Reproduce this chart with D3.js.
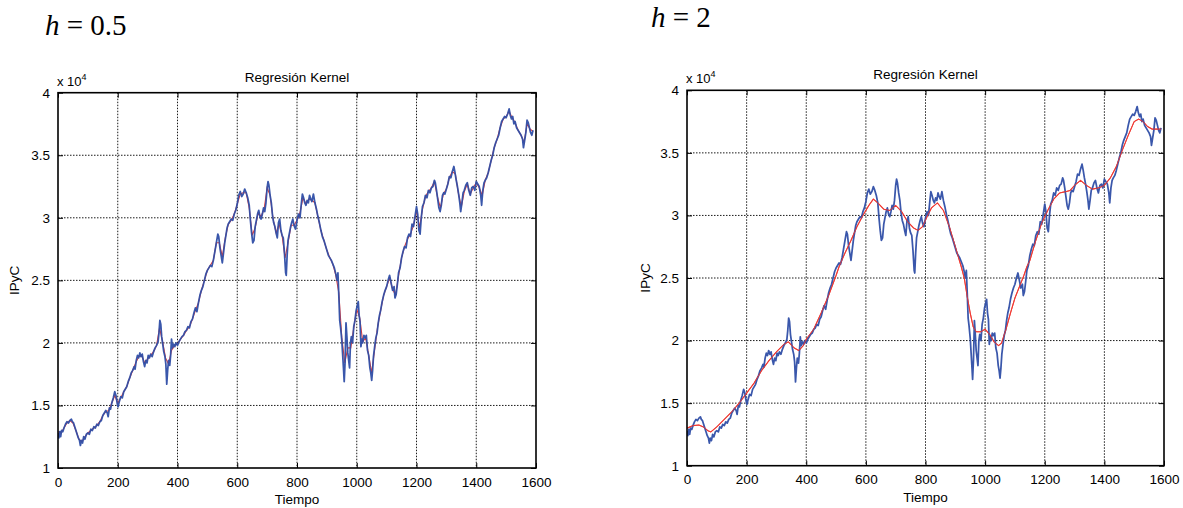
<!DOCTYPE html>
<html><head><meta charset="utf-8">
<script src="https://cdn.jsdelivr.net/npm/d3@7"></script>
<style>body{margin:0;background:#fff;} svg text{font-family:"Liberation Sans",Arial,sans-serif;fill:#000;}</style>
</head><body>
<svg id="c" width="1183" height="508"></svg>
<script>
const tiempo = [0,3,6,9,12,16,20,25,30,35,40,45,48,52,56,60,64,68,72,75,78,82,86,90,95,100,105,110,115,120,125,130,135,140,145,150,155,160,165,168,172,176,180,185,190,194,198,201,205,210,215,220,225,230,235,240,245,250,255,258,262,266,270,274,278,282,286,290,294,298,302,306,310,315,320,325,330,335,338,341,344,347,350,354,358,361,364,367,370,374,377,380,383,387,391,395,400,405,410,415,420,425,430,435,440,445,450,455,460,465,470,475,480,485,490,495,500,505,510,515,520,525,530,535,538,542,546,550,554,558,562,566,570,575,580,585,590,595,600,605,610,615,620,625,630,635,640,644,648,652,656,660,664,668,672,676,680,684,688,692,696,700,703,706,710,714,718,722,726,730,734,738,742,746,750,754,758,762,764,767,770,774,778,782,786,790,795,800,805,810,814,818,822,826,830,834,838,842,846,850,855,860,865,870,875,880,885,890,895,900,905,910,915,920,925,930,934,937,940,943,946,950,953,956,958,961,964,967,970,973,976,979,982,986,990,994,998,1002,1005,1008,1011,1014,1017,1020,1024,1028,1032,1036,1040,1044,1047,1050,1053,1056,1060,1064,1068,1072,1076,1080,1085,1090,1095,1100,1105,1110,1115,1120,1125,1128,1132,1136,1140,1145,1150,1155,1160,1165,1170,1175,1180,1185,1190,1195,1200,1204,1208,1212,1216,1220,1225,1230,1235,1240,1245,1250,1255,1260,1263,1267,1271,1275,1279,1283,1287,1291,1295,1300,1305,1310,1315,1320,1325,1329,1333,1337,1341,1345,1348,1352,1356,1360,1365,1370,1375,1380,1385,1390,1395,1400,1405,1410,1415,1418,1422,1426,1430,1435,1440,1445,1450,1455,1460,1465,1470,1475,1480,1485,1490,1495,1500,1505,1510,1514,1518,1522,1526,1530,1535,1540,1545,1550,1555,1558,1562,1566,1570,1574,1578,1582,1586,1590];
const ipyc = [1.28,1.24,1.29,1.25,1.30,1.29,1.32,1.35,1.37,1.36,1.38,1.39,1.37,1.36,1.33,1.30,1.27,1.24,1.22,1.18,1.22,1.20,1.25,1.23,1.27,1.28,1.27,1.31,1.30,1.33,1.32,1.35,1.34,1.37,1.38,1.42,1.44,1.46,1.44,1.41,1.48,1.47,1.52,1.56,1.61,1.58,1.52,1.49,1.53,1.57,1.56,1.61,1.63,1.65,1.69,1.72,1.76,1.78,1.81,1.79,1.86,1.90,1.88,1.92,1.89,1.91,1.85,1.81,1.86,1.84,1.90,1.88,1.91,1.89,1.93,1.96,1.98,2.01,2.08,2.18,2.15,2.05,2.00,1.93,1.89,1.83,1.67,1.78,1.86,1.82,1.90,2.03,1.96,1.99,1.97,2.00,1.98,2.01,2.03,2.05,2.06,2.09,2.10,2.13,2.12,2.17,2.19,2.24,2.28,2.25,2.32,2.38,2.42,2.45,2.50,2.55,2.58,2.60,2.62,2.61,2.66,2.73,2.80,2.87,2.85,2.76,2.70,2.64,2.72,2.80,2.86,2.92,2.95,2.97,2.99,2.98,3.03,3.06,3.11,3.18,3.21,3.17,3.19,3.23,3.20,3.16,3.10,2.98,2.88,2.80,2.82,2.93,2.98,3.03,3.06,3.01,2.99,3.03,3.08,3.05,3.12,3.24,3.29,3.26,3.18,3.12,3.02,2.96,2.93,2.88,2.84,2.96,2.99,2.90,2.86,2.84,2.72,2.56,2.54,2.70,2.82,2.87,2.92,2.96,2.99,2.94,2.91,2.98,3.03,3.00,3.10,3.19,3.16,3.12,3.10,3.14,3.12,3.18,3.15,3.13,3.19,3.12,3.07,3.01,2.96,2.90,2.85,2.82,2.78,2.74,2.70,2.68,2.66,2.63,2.60,2.55,2.50,2.56,2.38,2.18,2.12,2.02,1.90,1.78,1.69,1.85,2.16,2.05,1.92,1.86,1.80,2.00,2.05,2.00,2.13,2.18,2.26,2.30,2.33,2.22,2.17,1.97,2.03,2.00,2.06,2.04,2.06,1.94,1.90,1.80,1.76,1.70,1.78,1.89,1.97,2.04,2.08,2.16,2.22,2.26,2.33,2.38,2.42,2.45,2.50,2.54,2.48,2.42,2.45,2.36,2.39,2.47,2.56,2.60,2.68,2.73,2.77,2.76,2.84,2.87,2.85,2.95,2.93,3.01,3.09,3.03,2.90,2.87,3.00,3.09,3.12,3.18,3.16,3.22,3.20,3.24,3.25,3.30,3.28,3.22,3.15,3.08,3.05,3.10,3.18,3.20,3.19,3.23,3.27,3.33,3.32,3.37,3.41,3.36,3.30,3.25,3.19,3.12,3.05,3.12,3.20,3.22,3.26,3.28,3.22,3.18,3.24,3.25,3.22,3.29,3.27,3.25,3.18,3.10,3.22,3.28,3.30,3.32,3.36,3.41,3.46,3.50,3.56,3.60,3.63,3.66,3.72,3.77,3.79,3.81,3.80,3.83,3.87,3.82,3.79,3.81,3.75,3.77,3.72,3.70,3.68,3.66,3.63,3.56,3.62,3.68,3.78,3.76,3.72,3.68,3.66,3.70];

// Kernel regression, h = 0.5 (red, left panel)
const tiempoH05 = [0,10,20,30,40,50,60,70,80,90,100,110,120,130,140,150,160,170,180,190,200,210,220,230,240,250,260,270,280,290,300,310,320,330,340,350,360,370,380,390,400,410,420,430,440,450,460,470,480,490,500,510,520,530,540,550,560,570,580,590,600,610,620,630,640,650,660,670,680,690,700,710,720,730,740,750,760,770,780,790,800,810,820,830,840,850,860,870,880,890,900,910,920,930,940,950,960,970,980,990,1000,1010,1020,1030,1040,1050,1060,1070,1080,1090,1100,1110,1120,1130,1140,1150,1160,1170,1180,1190,1200,1210,1220,1230,1240,1250,1260,1270,1280,1290,1300,1310,1320,1330,1340,1350,1360,1370,1380,1390,1400,1410,1420,1430,1440,1450,1460,1470,1480,1490,1500,1510,1520,1530,1540,1550,1560,1570,1580,1590];
const kernelH05 = [1.29,1.28,1.32,1.36,1.38,1.36,1.30,1.23,1.21,1.25,1.28,1.30,1.32,1.34,1.37,1.42,1.45,1.46,1.52,1.58,1.52,1.56,1.61,1.65,1.72,1.78,1.84,1.89,1.90,1.84,1.87,1.90,1.93,1.98,2.12,2.01,1.88,1.83,1.94,1.98,1.99,2.03,2.06,2.10,2.13,2.19,2.26,2.32,2.42,2.50,2.58,2.62,2.66,2.80,2.80,2.69,2.84,2.95,2.98,3.03,3.11,3.19,3.20,3.20,3.08,2.86,2.92,3.04,3.01,3.07,3.24,3.18,2.99,2.88,2.95,2.86,2.68,2.80,2.94,2.94,2.98,3.04,3.16,3.11,3.15,3.14,3.12,3.01,2.90,2.82,2.74,2.68,2.63,2.54,2.40,2.04,1.84,1.96,1.96,2.12,2.27,2.20,2.01,2.04,1.90,1.76,1.95,2.13,2.26,2.38,2.45,2.52,2.43,2.38,2.54,2.68,2.77,2.83,2.87,2.94,3.06,2.92,3.07,3.17,3.21,3.24,3.29,3.17,3.08,3.19,3.23,3.32,3.37,3.35,3.20,3.09,3.21,3.27,3.19,3.24,3.28,3.24,3.18,3.30,3.36,3.46,3.56,3.63,3.72,3.79,3.81,3.85,3.80,3.76,3.70,3.66,3.60,3.75,3.71,3.69];

// Kernel regression, h = 2 (red, right panel)
const tiempoH2 = [0,20,40,55,70,80,100,125,150,175,200,225,250,275,300,325,340,360,375,390,400,425,450,475,500,510,530,550,570,590,610,625,640,660,680,700,720,740,760,775,790,805,820,840,860,880,900,920,930,940,950,960,970,985,1000,1015,1030,1045,1055,1070,1085,1100,1115,1130,1140,1150,1170,1190,1210,1230,1250,1270,1285,1300,1320,1340,1360,1380,1400,1420,1440,1460,1480,1500,1515,1530,1545,1560,1580,1590];
const kernelH2 = [1.30,1.32,1.325,1.31,1.28,1.27,1.31,1.37,1.43,1.50,1.58,1.66,1.76,1.84,1.91,1.97,1.99,1.94,1.92,1.96,2.01,2.09,2.22,2.36,2.52,2.59,2.70,2.80,2.91,3.00,3.08,3.13,3.10,3.05,3.04,3.08,3.03,2.95,2.90,2.88,2.91,2.99,3.06,3.10,3.04,2.91,2.75,2.59,2.50,2.35,2.22,2.11,2.07,2.07,2.09,2.05,1.99,1.96,1.98,2.09,2.22,2.34,2.43,2.52,2.59,2.64,2.80,2.94,3.04,3.13,3.18,3.19,3.20,3.24,3.28,3.24,3.21,3.22,3.24,3.30,3.39,3.52,3.64,3.75,3.77,3.75,3.71,3.69,3.69,3.69];

const xTicks = [0,200,400,600,800,1000,1200,1400,1600];
const yTicks = [1,1.5,2,2.5,3,3.5,4];
const yTickLabels = ["1","1.5","2","2.5","3","3.5","4"];
const hValues = ["0.5","2"];
const chartTitle = "Regresión Kernel";
const xLabel = "Tiempo";
const yLabel = "IPyC";

const svg = d3.select("#c");
const blue = d3.range(tiempo.length).map(i => [tiempo[i], ipyc[i]]);
const redSets = [
  d3.range(tiempoH05.length).map(i => [tiempoH05[i], kernelH05[i]]),
  d3.range(tiempoH2.length).map(i => [tiempoH2[i], kernelH2[i]])
];

const panels = [
  {l:58, r:536, t:92.7, b:468, hx:45, hy:35, ylx:19},
  {l:687, r:1164, t:90.3, b:465.7, hx:651, hy:27, ylx:650}
];

panels.forEach((p, k) => {
  const x = d3.scaleLinear().domain([0,1600]).range([p.l, p.r]);
  const y = d3.scaleLinear().domain([1,4]).range([p.b, p.t]);
  const g = svg.append("g");

  // h label
  const ht = g.append("text").attr("x", p.hx).attr("y", p.hy)
    .style("font-family", '"Liberation Serif","Times New Roman",serif').style("font-size", "29px");
  ht.append("tspan").style("font-style","italic").style("font-family", '"Liberation Serif",serif').text("h");
  ht.append("tspan").style("font-family", '"Liberation Serif",serif').text(" = " + hValues[k]);

  // grid
  g.selectAll(".gx").data(xTicks.slice(1,-1)).enter().append("line")
    .attr("x1", d => x(d)).attr("x2", d => x(d)).attr("y1", p.t).attr("y2", p.b)
    .attr("stroke","#000").attr("stroke-width",0.9).attr("stroke-dasharray","1.5,1.5");
  g.selectAll(".gy").data(yTicks.slice(1,-1)).enter().append("line")
    .attr("x1", p.l).attr("x2", p.r).attr("y1", d => y(d)).attr("y2", d => y(d))
    .attr("stroke","#000").attr("stroke-width",0.9).attr("stroke-dasharray","1.5,1.5");

  // clip
  const cid = "clip" + k;
  svg.append("clipPath").attr("id", cid).append("rect")
    .attr("x", p.l).attr("y", p.t).attr("width", p.r - p.l).attr("height", p.b - p.t);

  const line = d3.line().x(d => x(d[0])).y(d => y(d[1]));
  const pg = g.append("g").attr("clip-path", `url(#${cid})`);
  pg.append("path").datum(redSets[k]).attr("d", line)
    .attr("fill","none").attr("stroke","#f03a32").attr("stroke-width",1.1);
  pg.append("path").datum(blue).attr("d", line)
    .attr("fill","none").attr("stroke","#2f4ea6").attr("stroke-width",1.75)
    .attr("stroke-linejoin","round").attr("opacity",0.95);
  if (k === 1) {
    pg.append("path").datum(redSets[k]).attr("d", line)
      .attr("fill","none").attr("stroke","#f03a32").attr("stroke-width",1).attr("opacity",0.85);
  }

  // axes with inward ticks
  const axB = d3.axisBottom(x).tickValues(xTicks).tickSize(-5).tickPadding(9).tickFormat(d3.format("d"));
  const axT = d3.axisTop(x).tickValues(xTicks).tickSize(-5).tickFormat("");
  const axL = d3.axisLeft(y).tickValues(yTicks).tickSize(-5).tickPadding(8).tickFormat((d,i) => yTickLabels[i]);
  const axR = d3.axisRight(y).tickValues(yTicks).tickSize(-5).tickFormat("");
  const styleAx = sel => {
    sel.select(".domain").remove();
    sel.selectAll("line").attr("stroke","#000").attr("stroke-width",1);
    sel.selectAll("text").style("font-size","13.5px").style("font-family",'"Liberation Sans",Arial,sans-serif');
  };
  g.append("g").attr("transform",`translate(0,${p.b})`).call(axB).call(styleAx);
  g.append("g").attr("transform",`translate(0,${p.t})`).call(axT).call(styleAx);
  g.append("g").attr("transform",`translate(${p.l},0)`).call(axL).call(styleAx);
  g.append("g").attr("transform",`translate(${p.r},0)`).call(axR).call(styleAx);

  // box
  g.append("rect").attr("x", p.l).attr("y", p.t).attr("width", p.r - p.l).attr("height", p.b - p.t)
    .attr("fill","none").attr("stroke","#000").attr("stroke-width",1.6);

  // title, exponent, labels
  g.append("text").attr("x", (p.l + p.r)/2).attr("y", p.t - 11).attr("text-anchor","middle")
    .style("font-size","13.5px").text(chartTitle);
  const ex = g.append("text").attr("x", p.l - 1).attr("y", p.t - 7).style("font-size","13px");
  ex.append("tspan").text("x 10");
  ex.append("tspan").attr("dy", -6).style("font-size","9px").text("4");
  g.append("text").attr("x", (p.l + p.r)/2).attr("y", p.b + 36).attr("text-anchor","middle")
    .style("font-size","13.5px").text(xLabel);
  g.append("text").attr("transform", `translate(${p.ylx},${(p.t + p.b)/2}) rotate(-90)`)
    .attr("text-anchor","middle").style("font-size","13.5px").text(yLabel);
});
</script>
</body></html>
